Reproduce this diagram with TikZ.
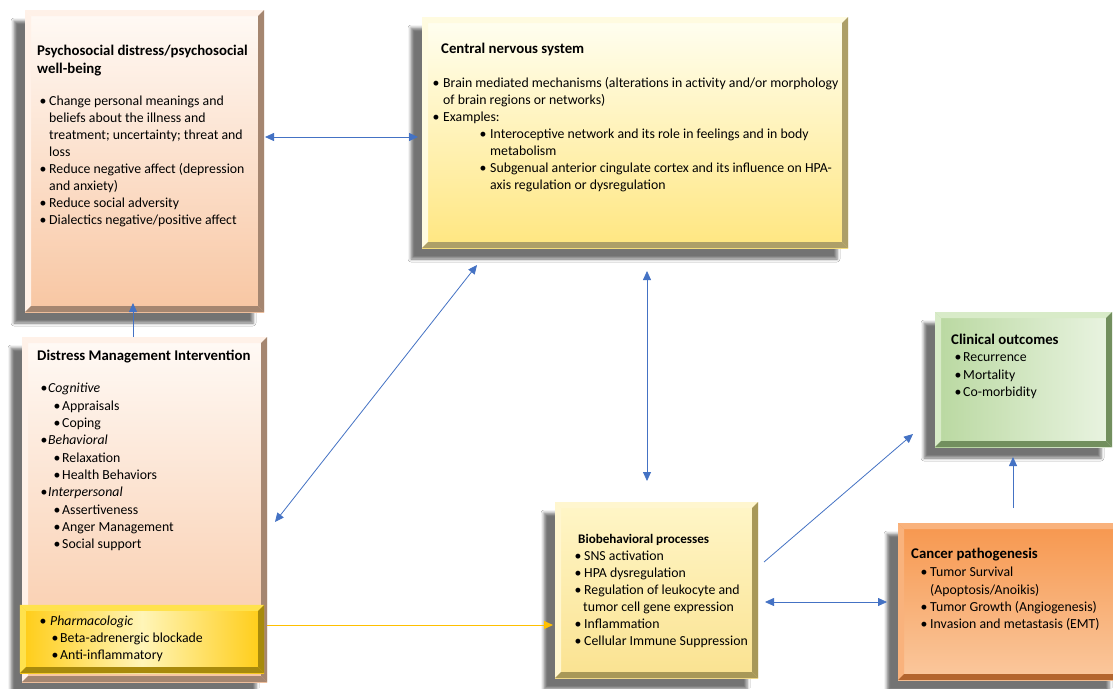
\documentclass[tikz,border=0pt]{standalone}
\usepackage{fontspec}
\setmainfont{Carlito}
\usepackage{tikz}
\usetikzlibrary{arrows.meta,calc,shadows.blur}

\definecolor{linkblue}{HTML}{4472C4}
\definecolor{linkgold}{HTML}{FFC000}
\definecolor{peachtop}{HTML}{FFFAF6}
\definecolor{peachbot}{HTML}{F8C6A2}
\definecolor{peachlight}{HTML}{FFF1E8}
\definecolor{peachdark}{HTML}{A58670}
\definecolor{cnstop}{HTML}{FFFFF2}
\definecolor{cnsbot}{HTML}{FFE680}
\definecolor{cnslight}{HTML}{FFFBE0}
\definecolor{cnsdark}{HTML}{AD9F68}
\definecolor{biotop}{HTML}{FFF6C8}
\definecolor{biobot}{HTML}{FAE290}
\definecolor{biolight}{HTML}{FFF6CF}
\definecolor{biodark}{HTML}{A89858}
\definecolor{clinleft}{HTML}{B9D8A0}
\definecolor{clinright}{HTML}{EAF4E2}
\definecolor{clinlight}{HTML}{D8EBC8}
\definecolor{clindark}{HTML}{728F5E}
\definecolor{canctop}{HTML}{F7974E}
\definecolor{cancbot}{HTML}{FAC89E}
\definecolor{canclight}{HTML}{F9B27C}
\definecolor{cancdark}{HTML}{B3652E}
\definecolor{pharmside}{HTML}{FFCC14}
\definecolor{pharmmid}{HTML}{FFF5B8}
\definecolor{pharmlight}{HTML}{FFE24D}
\definecolor{pharmdark}{HTML}{A88A0C}

\newcommand{\itemdot}[1][9pt]{\makebox[#1][l]{\hspace*{-0.5pt}\textbullet}}
\newcommand{\itemgap}[1][9pt]{\hspace*{#1}}
\newcommand{\boxhead}[1]{{\fontsize{14.8}{17}\selectfont\bfseries #1}}
% bevel frame: node, width, light colour, dark colour
\newcommand{\bevel}[4]{%
  \fill[#3] (#1.north west) -- (#1.north east) -- ([xshift=-#2,yshift=-#2]#1.north east) -- ([xshift=#2,yshift=-#2]#1.north west) -- cycle;
  \fill[#3] (#1.north west) -- ([xshift=#2,yshift=-#2]#1.north west) -- ([xshift=#2,yshift=#2]#1.south west) -- (#1.south west) -- cycle;
  \fill[#4] (#1.north east) -- (#1.south east) -- ([xshift=-#2,yshift=#2]#1.south east) -- ([xshift=-#2,yshift=-#2]#1.north east) -- cycle;
  \fill[#4] (#1.south west) -- (#1.south east) -- ([xshift=-#2,yshift=#2]#1.south east) -- ([xshift=#2,yshift=#2]#1.south west) -- cycle;}

\tikzset{
  panel/.style={inner sep=0pt, outer sep=0pt,
    blur shadow={shadow xshift=-11pt, shadow yshift=-11pt, shadow opacity=55, shadow blur radius=3pt}},
  txt/.style={anchor=north west, inner sep=0pt, align=left, font=\fontsize{13.8}{17}\selectfont},
  link/.style={draw=linkblue, line width=0.8pt, >={Triangle[length=9pt,width=8pt]}},
}

\begin{document}
\begin{tikzpicture}[x=1pt, y=-1pt]
\useasboundingbox[fill=white] (0,0) rectangle (1113,688);

\node[panel, minimum width=239pt, minimum height=302pt, top color=peachtop, bottom color=peachbot] (psy) at (144.5,161) {};
\bevel{psy}{6pt}{peachlight}{peachdark}
\node[panel, minimum width=426pt, minimum height=231pt, top color=cnstop, bottom color=cnsbot] (cns) at (635,132.5) {};
\bevel{cns}{6pt}{cnslight}{cnsdark}
\node[panel, minimum width=245pt, minimum height=345pt, top color=peachtop, bottom color=peachbot] (dmi) at (144.5,509.5) {};
\bevel{dmi}{6pt}{peachlight}{peachdark}
\node[inner sep=0pt, minimum width=244pt, minimum height=68pt, left color=pharmside, right color=pharmside, middle color=pharmmid] (pharm) at (142,639) {};
\bevel{pharm}{6pt}{pharmlight}{pharmdark}
\node[panel, minimum width=203pt, minimum height=176pt, top color=biotop, bottom color=biobot] (bio) at (656.5,590) {};
\bevel{bio}{6pt}{biolight}{biodark}
\node[panel, minimum width=177pt, minimum height=135pt, left color=clinleft, right color=clinright] (clin) at (1023.5,379.5) {};
\bevel{clin}{6pt}{clinlight}{clindark}
\node[panel, minimum width=222pt, minimum height=157pt, top color=canctop, bottom color=cancbot] (canc) at (1009,601.5) {};
\bevel{canc}{6pt}{canclight}{cancdark}

\node[txt] (psytext) at (37,45) {%
\boxhead{Psychosocial distress/psychosocial}\\[1pt]
\boxhead{well-being}\\[15pt]
\hspace*{3pt}\itemdot Change personal meanings and\\
\itemgap[12pt]beliefs about the illness and\\
\itemgap[12pt]treatment; uncertainty; threat and\\
\itemgap[12pt]loss\\
\hspace*{3pt}\itemdot Reduce negative affect (depression\\
\itemgap[12pt]and anxiety)\\
\hspace*{3pt}\itemdot Reduce social adversity\\
\hspace*{3pt}\itemdot Dialectics negative/positive affect};

\node[txt] (cnstext) at (433,43) {%
\hspace*{8pt}\boxhead{Central nervous system}\\[17pt]
\itemdot[10pt]Brain mediated mechanisms (alterations in activity and/or morphology\\
\itemgap[10pt]of brain regions or networks)\\
\itemdot[10pt]Examples:\\
\hspace*{47pt}\itemdot[10pt]Interoceptive network and its role in feelings and in body\\
\itemgap[57pt]metabolism\\
\hspace*{47pt}\itemdot[10pt]Subgenual anterior cingulate cortex and its influence on HPA-\\
\itemgap[57pt]axis regulation or dysregulation};

\node[txt, font=\fontsize{13.8}{17.3}\selectfont] (dmitext) at (37,350) {%
\boxhead{Distress Management Intervention}\\[15pt]
\hspace*{4pt}\itemdot[7pt]\textit{Cognitive}\\
\hspace*{17pt}\itemdot[8pt]Appraisals\\
\hspace*{17pt}\itemdot[8pt]Coping\\
\hspace*{4pt}\itemdot[7pt]\textit{Behavioral}\\
\hspace*{17pt}\itemdot[8pt]Relaxation\\
\hspace*{17pt}\itemdot[8pt]Health Behaviors\\
\hspace*{4pt}\itemdot[7pt]\textit{Interpersonal}\\
\hspace*{17pt}\itemdot[8pt]Assertiveness\\
\hspace*{17pt}\itemdot[8pt]Anger Management\\
\hspace*{17pt}\itemdot[8pt]Social support};

\node[txt] (pharmtext) at (38,616) {%
\hspace*{2pt}\itemdot[10pt]\textit{Pharmacologic}\\
\hspace*{14pt}\itemdot[8pt]Beta-adrenergic blockade\\
\hspace*{14pt}\itemdot[8pt]Anti-inflammatory};

\node[txt] (biotext) at (575,534) {%
\hspace*{3pt}{\fontsize{13.1}{15}\selectfont\bfseries Biobehavioral processes}\\[0pt]
\itemdot SNS activation\\
\itemdot HPA dysregulation\\
\itemdot Regulation of leukocyte and\\
\itemgap[8pt]tumor cell gene expression\\
\itemdot Inflammation\\
\itemdot Cellular Immune Suppression};

\node[txt, font=\fontsize{13.8}{17.4}\selectfont] (clintext) at (951,334) {%
\boxhead{Clinical outcomes}\\
\hspace*{4pt}\itemdot[8pt]Recurrence\\
\hspace*{4pt}\itemdot[8pt]Mortality\\
\hspace*{4pt}\itemdot[8pt]Co-morbidity};

\node[txt, font=\fontsize{13.8}{17.3}\selectfont] (canctext) at (911,548) {%
\boxhead{Cancer pathogenesis}\\[1pt]
\hspace*{10pt}\itemdot Tumor Survival\\
\itemgap[19pt](Apoptosis/Anoikis)\\
\hspace*{10pt}\itemdot Tumor Growth (Angiogenesis)\\
\hspace*{10pt}\itemdot Invasion and metastasis (EMT)};

\draw[link,<->] ($(psy.east)+(1,-24)$) -- ($(cns.west)+(-4,4.5)$);
\draw[link,->] ($(dmi.north)+(-11.5,0)$) -- ($(psy.south)+(-11.5,-9)$);
\draw[link,<->] ($(dmi.east)+(8,12.5)$) -- ($(cns.south west)+(55,17)$);
\draw[link,<->] ($(cns.south)+(12,23)$) -- ($(bio.north)+(-9.5,-21)$);
\draw[link,->,draw=linkgold,fill=linkgold,line width=1pt] ($(pharm.east)+(3,-14)$) -- ($(bio.west)+(-2,35)$);
\draw[link,->] ($(bio.east)+(6,-28)$) -- ($(clin.south west)+(-22,-13)$);
\draw[link,<->] ($(bio.east)+(7,12)$) -- ($(canc.west)+(-11,0.5)$);
\draw[link,->] ($(canc.north)+(4,-15)$) -- ($(clin.south)+(-10.5,10)$);
\end{tikzpicture}
\end{document}
